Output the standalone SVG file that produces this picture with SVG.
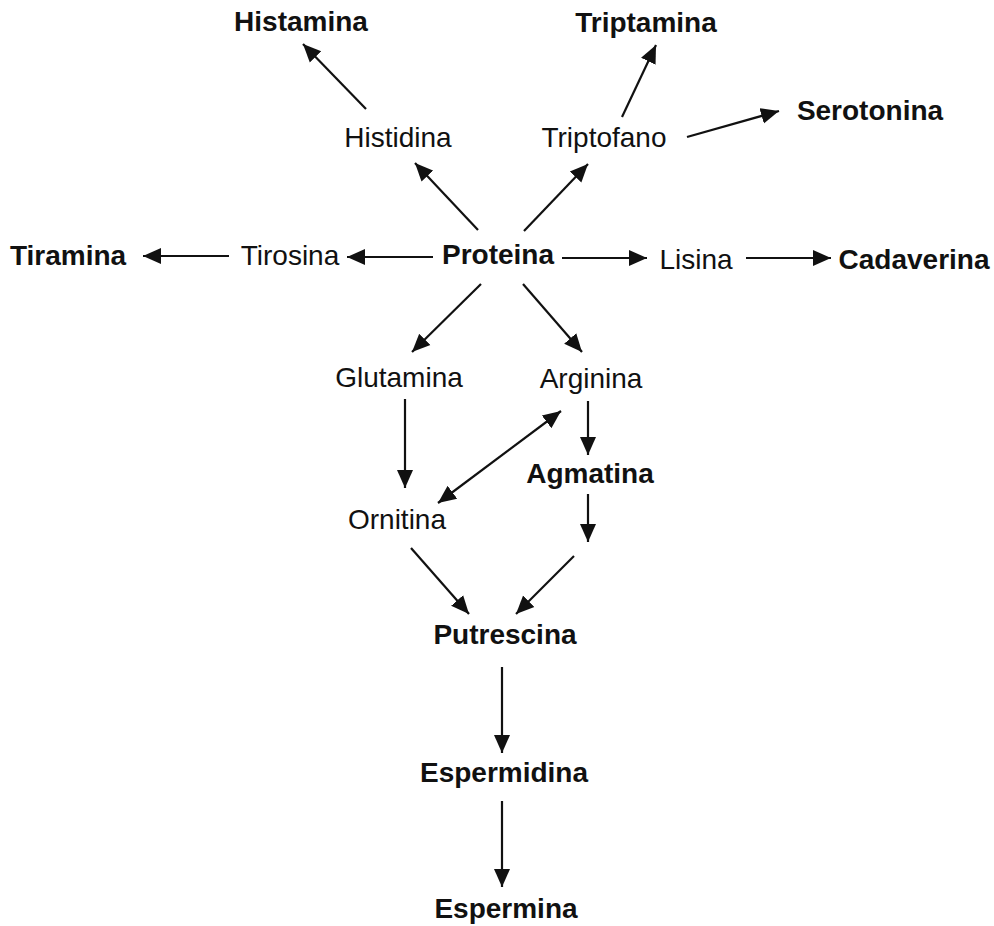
<svg xmlns="http://www.w3.org/2000/svg" width="994" height="926" viewBox="0 0 994 926">
<style>
text{font-family:"Liberation Sans",Arial,sans-serif;font-size:28px;fill:#111;text-anchor:middle}
.b{font-weight:bold}
.c line{stroke:#111;stroke-width:2.2;marker-end:url(#ah)}
</style>
<defs>
<marker id="ah" markerUnits="userSpaceOnUse" markerWidth="20" markerHeight="18" refX="18" refY="8" orient="auto-start-reverse" viewBox="0 0 20 16">
<path d="M0,0 L18,8 L0,16 z" fill="#111"/>
</marker>
</defs>
<rect width="994" height="926" fill="#fff"/>
<g id="histamina"><text class="b" x="301" y="31">Histamina</text></g>
<g id="triptamina"><text class="b" x="646" y="32">Triptamina</text></g>
<g id="serotonina"><text class="b" x="870" y="120">Serotonina</text></g>
<g id="histidina"><text x="398" y="147">Histidina</text></g>
<g id="triptofano"><text x="604" y="147">Triptofano</text></g>
<g id="tiramina"><text class="b" x="68" y="265">Tiramina</text></g>
<g id="tirosina"><text x="290" y="265">Tirosina</text></g>
<g id="proteina"><text class="b" x="498" y="264">Proteina</text></g>
<g id="lisina"><text x="696" y="269">Lisina</text></g>
<g id="cadaverina"><text class="b" x="914" y="269">Cadaverina</text></g>
<g id="glutamina"><text x="399" y="387">Glutamina</text></g>
<g id="arginina"><text x="591" y="388">Arginina</text></g>
<g id="agmatina"><text class="b" x="590" y="483">Agmatina</text></g>
<g id="ornitina"><text x="397" y="529">Ornitina</text></g>
<g id="putrescina"><text class="b" x="505" y="644">Putrescina</text></g>
<g id="espermidina"><text class="b" x="504" y="782">Espermidina</text></g>
<g id="espermina"><text class="b" x="506" y="918">Espermina</text></g>
<g id="connectors" class="c">
<line x1="366" y1="109" x2="303" y2="44"/>
<line x1="622" y1="117" x2="656" y2="45"/>
<line x1="687" y1="137" x2="779" y2="111"/>
<line x1="478" y1="230" x2="415" y2="163"/>
<line x1="524" y1="231" x2="588" y2="164"/>
<line x1="433" y1="257" x2="347" y2="257"/>
<line x1="229" y1="256" x2="143" y2="256"/>
<line x1="562" y1="258" x2="647" y2="258"/>
<line x1="746" y1="258" x2="831" y2="258"/>
<line x1="481" y1="284" x2="412" y2="352"/>
<line x1="523" y1="284" x2="582" y2="352"/>
<line x1="405" y1="399" x2="405" y2="488"/>
<line x1="561" y1="411" x2="438" y2="503" style="marker-start:url(#ah)"/>
<line x1="588" y1="401" x2="588" y2="455"/>
<line x1="588" y1="494" x2="588" y2="542"/>
<line x1="411" y1="548" x2="469" y2="614"/>
<line x1="574" y1="556" x2="516" y2="614"/>
<line x1="502" y1="667" x2="502" y2="753"/>
<line x1="502" y1="801" x2="502" y2="887"/>
</g>
</svg>
